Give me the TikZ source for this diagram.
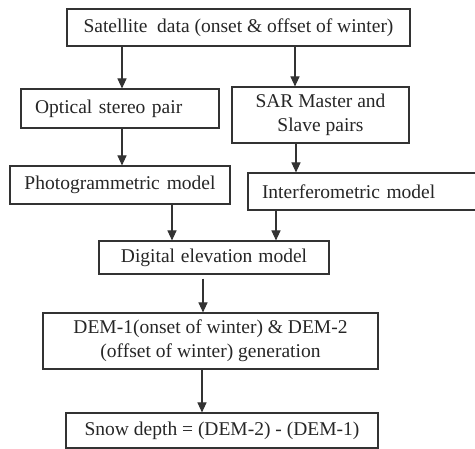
\documentclass[tikz,border=0pt]{standalone}
\usepackage{fontspec}
\setmainfont{Liberation Serif}
\usetikzlibrary{arrows.meta}
\begin{document}
\begin{tikzpicture}[x=1pt,y=-1pt,
  box/.style={draw=black!80,line width=1.1pt,rectangle,inner sep=0pt,font=\fontsize{19.5}{24}\selectfont,text=black!85},
  arr/.style={draw=black!80,line width=1.1pt,-{Triangle[width=9pt,length=10pt]}}]
\useasboundingbox (0,0) rectangle (475,449);
\clip (0,0) rectangle (475,449);
\node[box,minimum width=343pt,minimum height=37pt] (sat) at (238.5,27.5) {Satellite\ \ data (onset \& offset of winter)};
\node[box,minimum width=198pt,minimum height=39pt,text width=170pt,align=left] (opt) at (120,108.5) {Optical stereo pair};
\node[box,minimum width=177pt,minimum height=56pt,align=center] (sar) at (320.5,115) {SAR Master and\\Slave pairs};
\node[box,minimum width=220pt,minimum height=38pt] (pho) at (120,185) {Photogrammetric\hspace{2pt} model};
\node[box,minimum width=240pt,minimum height=37pt,text width=212pt,align=left] (int) at (368,191.5) {Interferometric model};
\node[box,minimum width=230pt,minimum height=33pt] (dem) at (214,257.5) {Digital\hspace{1pt} elevation\hspace{1pt} model};
\node[box,minimum width=335pt,minimum height=56pt,align=center] (dem1) at (210.5,341) {DEM-1(onset of winter) \& DEM-2\\(offset of winter) generation};
\node[box,minimum width=312pt,minimum height=35pt] (snow) at (222,430.5) {Snow depth = (DEM-2) - (DEM-1)};
\draw[arr] (sat.south -| 122,0) -- (opt.north -| 122,0);
\draw[arr] (sat.south -| 295,0) -- (sar.north -| 295,0);
\draw[arr] (opt.south -| 122,0) -- (pho.north -| 122,0);
\draw[arr] (sar.south -| 296,0) -- (int.north -| 296,0);
\draw[arr] (pho.south -| 172,0) -- (dem.north -| 172,0);
\draw[arr] (int.south -| 276,0) -- (dem.north -| 276,0);
\draw[arr] ([yshift=-4pt]dem.south -| 203,0) -- (dem1.north -| 203,0);
\draw[arr] (dem1.south -| 202,0) -- (snow.north -| 202,0);
\end{tikzpicture}
\end{document}
